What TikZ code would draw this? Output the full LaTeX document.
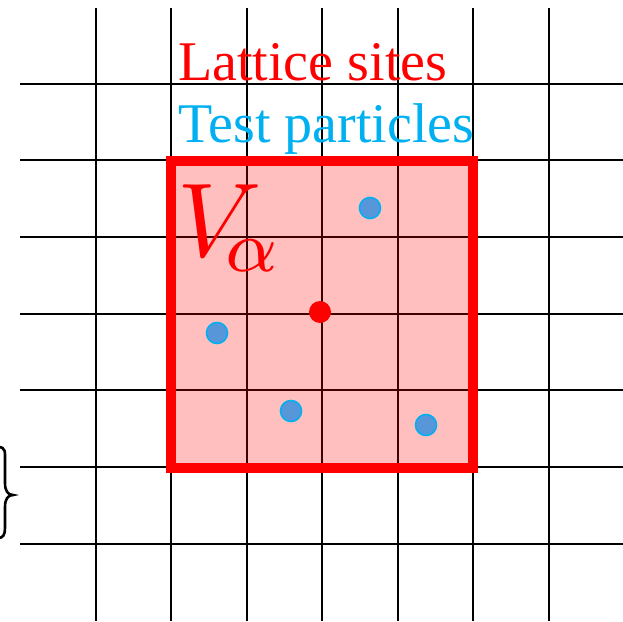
\documentclass[tikz,border=0pt]{standalone}
\usepackage{graphicx}
\usepackage{fontspec}
\setmainfont{Liberation Serif}
\definecolor{tpcyan}{RGB}{0,176,240}
\definecolor{tpfill}{RGB}{88,150,218}
\begin{document}
\begin{tikzpicture}[x=1pt,y=-1pt,
  gridline/.style={line width=2.6pt,black},
  particle/.style={circle,draw=tpcyan,fill=tpfill,line width=1.6pt,minimum size=21pt,inner sep=0pt},
  site/.style={circle,fill=red,minimum size=22pt,inner sep=0pt}]
\useasboundingbox (0,0) rectangle (623,621);
\foreach \x in {96,171,247,322,398,473,549} \draw[gridline] (\x,8) -- (\x,621);
\foreach \y in {84,160,237,314,390,467,544} \draw[gridline] (20,\y) -- (623,\y);
\fill[red,fill opacity=0.25] (171,161) rectangle (473,468);
\draw[red,line width=10.5pt] (171,161) rectangle (473,468);
\node[anchor=base west,text=red,inner sep=0pt,font=\fontsize{56}{56}\selectfont] (lat) at (178,80) {Lattice sites};
\node[anchor=base west,text=tpcyan,inner sep=0pt,font=\fontsize{56}{56}\selectfont] (tp) at (178,142) {Test particles};
\node[anchor=base west,text=red,inner sep=0pt] (va) at (177,256) {\scalebox{10.5}{$V_{\mkern-3mu\alpha}$}};
\node[site] (s) at (320,312) {};
\node[particle] (p1) at (370,208) {};
\node[particle] (p2) at (217,333) {};
\node[particle] (p3) at (291,411) {};
\node[particle] (p4) at (426,425) {};
\draw[line width=2.6pt,black] (-2,447) .. controls (6,447) and (5,452) .. (5,462)
  -- (5,483) .. controls (5,491) and (8,495) .. (13,495)
  .. controls (8,495) and (5,499) .. (5,507)
  -- (5,528) .. controls (5,535) and (3,538) .. (-2,538);
\end{tikzpicture}
\end{document}
